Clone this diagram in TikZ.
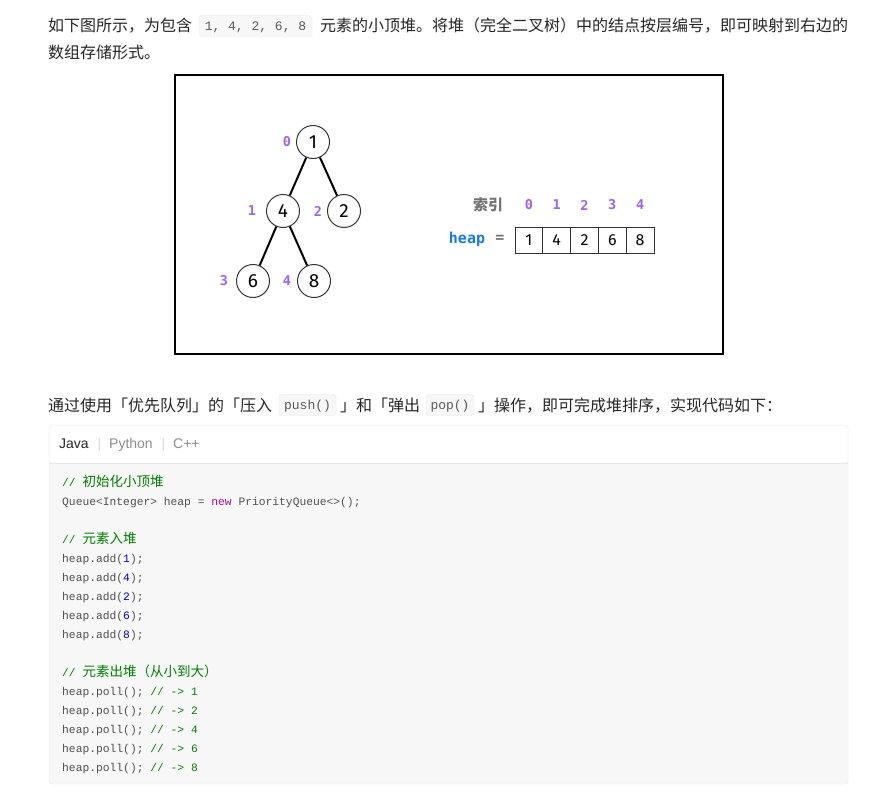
\documentclass[tikz,border=0pt]{standalone}
\usepackage{fontspec}
\setmainfont{Noto Sans CJK SC}
\setmonofont{Liberation Mono}
\newfontfamily\cjkc{Noto Sans CJK SC}
\newfontfamily\tabsans{Liberation Sans}
\newfontfamily\digitfont{Fira Sans}
\newfontfamily\idxmono{DejaVu Sans Mono}
\definecolor{bodytext}{RGB}{38,38,38}
\definecolor{idxpurple}{RGB}{160,98,245}
\definecolor{heapblue}{RGB}{26,124,230}
\definecolor{codegray}{RGB}{80,80,80}
\definecolor{codegreen}{RGB}{0,128,0}
\definecolor{codenum}{RGB}{0,0,205}
\definecolor{codekey}{RGB}{170,13,145}
\definecolor{codebg}{RGB}{247,247,247}
\definecolor{codeline}{RGB}{232,232,232}
\newcommand{\cmt}[1]{\textcolor{codegreen}{#1}}
\newcommand{\cjkcode}[1]{{\fontsize{13.5pt}{15pt}\cjkc #1}}
\tikzset{
  para/.style={anchor=base west, inner sep=0pt, text=bodytext, font=\fontsize{16pt}{20pt}\selectfont},
  inlinecode/.style={draw=codeline, fill=codebg, rounded corners=3pt, inner sep=0pt, minimum height=21pt,
    text height=8.5pt, text depth=0pt, text=black!65, font=\fontsize{13pt}{15pt}\ttfamily},
  heapnode/.style={circle, draw=black!80, line width=1pt, minimum size=33pt, inner sep=0pt,
    font=\fontsize{19pt}{21pt}\digitfont},
  idx/.style={text=idxpurple, inner sep=0pt, font=\fontsize{13.5pt}{15pt}\idxmono\bfseries},
  cell/.style={rectangle, draw=black!80, line width=1pt, minimum width=27.8pt, minimum height=26pt,
    inner sep=0pt, font=\fontsize{16pt}{18pt}\digitfont},
  codeln/.style={anchor=base west, inner sep=0pt, text=codegray, font=\fontsize{11.3pt}{13pt}\ttfamily},
  tab/.style={anchor=base west, inner sep=0pt, font=\fontsize{14pt}{16pt}\tabsans},
}
\begin{document}
\begin{tikzpicture}[x=1pt, y=-1pt]
  \useasboundingbox (0,0) rectangle (877,797);
  \fill[white] (0,0) rectangle (877,797);

  % first paragraph
  \node[para] (p1a) at (48,32) {如下图所示，为包含};
  \node[inlinecode, minimum width=113pt] (k1) at (255.5,26) {1, 4, 2, 6, 8};
  \node[para] (p1b) at (320,32) {元素的小顶堆。将堆（完全二叉树）中的结点按层编号，即可映射到右边的};
  \node[para] (p1c) at (48,58.5) {数组存储形式。};

  % figure: tree and array
  \draw[line width=1.5pt] (175,75) rectangle (723,354);
  \node[heapnode] (n0) at (313,142) {1};
  \node[heapnode] (n1) at (283,211) {4};
  \node[heapnode] (n2) at (344,211) {2};
  \node[heapnode] (n3) at (253,281) {6};
  \node[heapnode] (n4) at (314,281) {8};
  \draw[line width=2pt] (n0) -- (n1);
  \draw[line width=2pt] (n0) -- (n2);
  \draw[line width=2pt] (n1) -- (n3);
  \draw[line width=2pt] (n1) -- (n4);
  \node[idx] (i0) at (287,142) {0};
  \node[idx] (i1) at (252,211) {1};
  \node[idx] (i2) at (318,211) {2};
  \node[idx] (i3) at (224,281) {3};
  \node[idx] (i4) at (287,281) {4};

  \node[text=black!55, inner sep=0pt, font=\fontsize{15pt}{17pt}\bfseries] (suoyin) at (488,205) {索引};
  \node[idx] (a0) at (528.9,205) {0};
  \node[idx] (a1) at (556.7,205) {1};
  \node[idx] (a2) at (584.5,205) {2};
  \node[idx] (a3) at (612.3,205) {3};
  \node[idx] (a4) at (640.1,205) {4};
  \node[text=heapblue, inner sep=0pt, font=\fontsize{15pt}{17pt}\idxmono\bfseries] (heap) at (467,239) {heap};
  \node[text=black!55, inner sep=0pt, font=\fontsize{15pt}{17pt}\idxmono\bfseries] (eq) at (500,239) {=};
  \node[cell] (c0) at (528.9,240) {1};
  \node[cell] (c1) at (556.7,240) {4};
  \node[cell] (c2) at (584.5,240) {2};
  \node[cell] (c3) at (612.3,240) {6};
  \node[cell] (c4) at (640.1,240) {8};

  % second paragraph
  \node[para] (p2a) at (48,411) {通过使用「优先队列」的「压入};
  \node[inlinecode, minimum width=57pt] (k2) at (307.5,405) {push()};
  \node[para] (p2b) at (340,411) {」和「弹出};
  \node[inlinecode, minimum width=48pt] (k3) at (450,405) {pop()};
  \node[para] (p2c) at (478,411) {」操作，即可完成堆排序，实现代码如下：};

  % code block with tabs
  \draw[codeline, fill=codebg, rounded corners=3pt] (49,425) rectangle (848,784);
  \fill[white, rounded corners=3pt] (49.5,425.5) rectangle (847.5,462.5);
  \draw[codeline] (49.5,463) -- (847.5,463);
  \node[tab, text=black!85] (java) at (59,448) {Java};
  \node[tab, text=black!15] (bar1) at (97.5,448) {|};
  \node[tab, text=black!45] (python) at (109,448) {Python};
  \node[tab, text=black!15] (bar2) at (161.5,448) {|};
  \node[tab, text=black!45] (cpp) at (173,448) {C++};

  \node[codeln] (l0) at (62,486) {\cmt{// \cjkcode{初始化小顶堆}}};
  \node[codeln] (l1) at (62,505) {Queue<Integer> heap = \textcolor{codekey}{new} PriorityQueue<>();};
  \node[codeln] (l3) at (62,543) {\cmt{// \cjkcode{元素入堆}}};
  \node[codeln] (l4) at (62,562) {heap.add(\textcolor{codenum}{1});};
  \node[codeln] (l5) at (62,581) {heap.add(\textcolor{codenum}{4});};
  \node[codeln] (l6) at (62,600) {heap.add(\textcolor{codenum}{2});};
  \node[codeln] (l7) at (62,619) {heap.add(\textcolor{codenum}{6});};
  \node[codeln] (l8) at (62,638) {heap.add(\textcolor{codenum}{8});};
  \node[codeln] (l10) at (62,676) {\cmt{// \cjkcode{元素出堆（从小到大）}}};
  \node[codeln] (l11) at (62,695) {heap.poll(); \cmt{// -> 1}};
  \node[codeln] (l12) at (62,714) {heap.poll(); \cmt{// -> 2}};
  \node[codeln] (l13) at (62,733) {heap.poll(); \cmt{// -> 4}};
  \node[codeln] (l14) at (62,752) {heap.poll(); \cmt{// -> 6}};
  \node[codeln] (l15) at (62,771) {heap.poll(); \cmt{// -> 8}};
\end{tikzpicture}
\end{document}
